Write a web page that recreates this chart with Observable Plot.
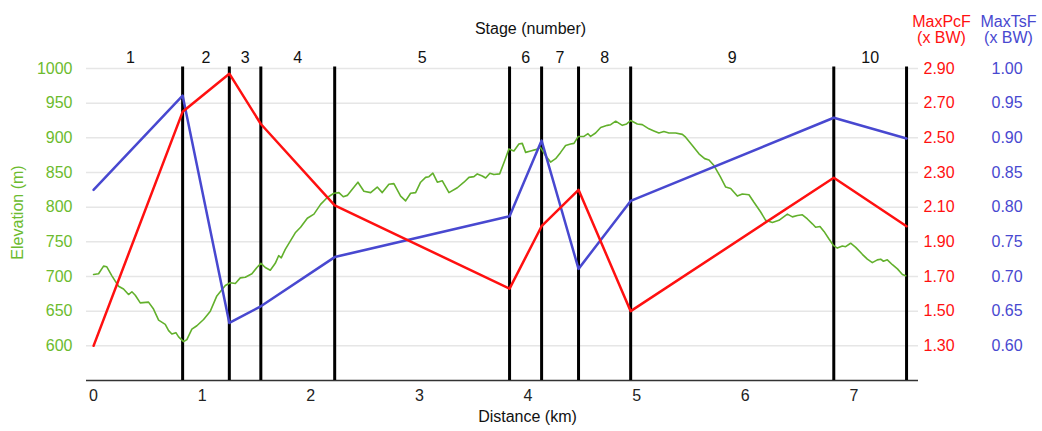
<!DOCTYPE html>
<html>
<head>
<meta charset="utf-8">
<script src="https://cdn.jsdelivr.net/npm/d3@7"></script>
<script src="https://cdn.jsdelivr.net/npm/@observablehq/plot@0.6"></script>
<style>
  html, body { margin: 0; padding: 0; background: #fff; }
  #chart svg { display: block; }
</style>
</head>
<body>
<div id="chart"></div>
<script>
// ---- Data ----
const stageNumbers = [1, 2, 3, 4, 5, 6, 7, 8, 9, 10];
const stageLabelKm = [0.34, 1.035, 1.395, 1.88, 3.025, 3.978, 4.295, 4.705, 5.88, 7.15];
const stageEnds = [0.82, 1.25, 1.54, 2.22, 3.83, 4.125, 4.465, 4.945, 6.815, 7.485];

const forceKm = [0, 0.82, 1.25, 1.54, 2.22, 3.83, 4.125, 4.465, 4.945, 6.815, 7.485];
const maxPcF = [1.30, 2.65, 2.87, 2.58, 2.11, 1.63, 1.99, 2.20, 1.50, 2.27, 1.99];
const maxTsF = [0.825, 0.961, 0.633, 0.657, 0.728, 0.787, 0.896, 0.711, 0.809, 0.929, 0.899];

const profileKm = [0, 0.046, 0.092, 0.122, 0.169, 0.230, 0.276, 0.322, 0.353, 0.384, 0.430, 0.506, 0.552, 0.599, 0.660, 0.691, 0.721, 0.758, 0.783, 0.829, 0.859, 0.905, 0.951, 1.013, 1.075, 1.135, 1.213, 1.259, 1.305, 1.351, 1.397, 1.458, 1.504, 1.541, 1.581, 1.627, 1.673, 1.704, 1.728, 1.765, 1.811, 1.857, 1.906, 1.968, 2.029, 2.090, 2.152, 2.213, 2.259, 2.299, 2.336, 2.382, 2.434, 2.489, 2.551, 2.612, 2.658, 2.719, 2.765, 2.827, 2.873, 2.919, 2.965, 3.011, 3.057, 3.088, 3.124, 3.165, 3.211, 3.272, 3.349, 3.410, 3.456, 3.502, 3.533, 3.579, 3.610, 3.649, 3.686, 3.739, 3.785, 3.824, 3.870, 3.916, 3.947, 3.978, 4.024, 4.070, 4.116, 4.162, 4.208, 4.254, 4.300, 4.346, 4.392, 4.423, 4.463, 4.515, 4.552, 4.576, 4.622, 4.669, 4.730, 4.761, 4.807, 4.868, 4.908, 4.945, 5.006, 5.052, 5.113, 5.159, 5.205, 5.251, 5.297, 5.359, 5.421, 5.451, 5.513, 5.574, 5.626, 5.666, 5.712, 5.770, 5.820, 5.866, 5.927, 5.973, 6.034, 6.080, 6.142, 6.188, 6.250, 6.310, 6.388, 6.434, 6.480, 6.526, 6.572, 6.618, 6.648, 6.688, 6.725, 6.771, 6.811, 6.848, 6.894, 6.924, 6.970, 7.017, 7.078, 7.124, 7.170, 7.216, 7.247, 7.272, 7.308, 7.355, 7.401, 7.447, 7.477];
const profileElev = [703, 704, 715, 714, 701, 686, 682, 674, 678, 673, 662, 663, 653, 637, 631, 622, 617, 619, 613, 606, 609, 624, 629, 638, 650, 672, 687, 691, 690, 698, 699, 704, 713, 719, 713, 709, 719, 730, 727, 739, 751, 763, 771, 784, 790, 804, 814, 820, 821, 815, 817, 826, 836, 823, 821, 829, 821, 833, 834, 816, 809, 820, 821, 836, 843, 844, 849, 836, 838, 821, 828, 836, 843, 844, 848, 845, 842, 849, 847, 848, 867, 884, 881, 891, 892, 879, 881, 883, 886, 874, 865, 870, 879, 889, 891, 892, 902, 902, 906, 902, 907, 915, 918, 919, 924, 918, 920, 925, 920, 919, 913, 910, 907, 909, 907, 907, 905, 901, 889, 877, 870, 868, 860, 844, 829, 827, 816, 819, 818, 807, 793, 781, 778, 781, 790, 786, 788, 789, 783, 776, 771, 772, 765, 754, 745, 741, 744, 743, 748, 742, 732, 725, 720, 724, 725, 722, 724, 717, 711, 703, 701];

const distTicks = [0, 1, 2, 3, 4, 5, 6, 7];
const elevTicks = [600, 650, 700, 750, 800, 850, 900, 950, 1000];
const pcfTicks = [1.30, 1.50, 1.70, 1.90, 2.10, 2.30, 2.50, 2.70, 2.90];
const tsfTicks = [0.60, 0.65, 0.70, 0.75, 0.80, 0.85, 0.90, 0.95, 1.00];

// ---- Colours ----
const GREEN_TEXT = "#6cbb2e";
const GREEN_LINE = "#62b02c";
const RED = "#ff1010";
const BLUE = "#4848d0";

// map secondary axes values onto the elevation scale
const pcfToElev = d3.scaleLinear().domain([pcfTicks[0], pcfTicks[pcfTicks.length - 1]]).range([elevTicks[0], elevTicks[elevTicks.length - 1]]);
const tsfToElev = d3.scaleLinear().domain([tsfTicks[0], tsfTicks[tsfTicks.length - 1]]).range([elevTicks[0], elevTicks[elevTicks.length - 1]]);

const profile = profileKm.map((k, i) => ({km: k, elev: profileElev[i]}));
const forces = forceKm.map((k, i) => ({km: k, pcf: pcfToElev(maxPcF[i]), tsf: tsfToElev(maxTsF[i])}));
const stageLabels = stageNumbers.map((n, i) => ({n: String(n), km: stageLabelKm[i]}));

const chart = Plot.plot({
  width: 1042,
  height: 431,
  marginLeft: 86,
  marginRight: 124,
  marginTop: 68,
  marginBottom: 51,
  x: {domain: [-0.065, 7.595]},
  y: {domain: [550, 1000]},
  style: {fontFamily: "'Liberation Sans', Arial, sans-serif", fontSize: "16px", background: "#fff", overflow: "visible"},
  marks: [
    Plot.gridY(elevTicks, {stroke: "#e6e6e6", strokeOpacity: 1, strokeWidth: 1.5}),
    Plot.ruleY([550], {stroke: "#333", strokeWidth: 1.5}),
    Plot.axisX(distTicks, {tickSize: 0, tickPadding: 9, label: null, fill: "#222", fontSize: 16}),
    Plot.axisY(elevTicks, {anchor: "left", tickSize: 0, tickPadding: 14, label: null, color: GREEN_TEXT, fontSize: 16,
      tickFormat: d => String(d)}),
    Plot.axisY(elevTicks, {anchor: "right", tickSize: 0, tickPadding: 5, label: null, color: RED, fontSize: 16,
      tickFormat: d => pcfTicks[elevTicks.indexOf(d)].toFixed(2)}),
    Plot.axisY(elevTicks, {anchor: "right", tickSize: 0, tickPadding: 5, dx: 68, label: null, color: BLUE, fontSize: 16,
      tickFormat: d => tsfTicks[elevTicks.indexOf(d)].toFixed(2)}),
    Plot.ruleX(stageEnds, {y1: 550, y2: 1002, stroke: "#000", strokeWidth: 3}),
    Plot.line(profile, {x: "km", y: "elev", stroke: GREEN_LINE, strokeWidth: 1.6}),
    Plot.line(forces, {x: "km", y: "tsf", stroke: BLUE, strokeWidth: 2.5}),
    Plot.line(forces, {x: "km", y: "pcf", stroke: RED, strokeWidth: 2.5}),
    Plot.text(stageLabels, {x: "km", y: 1000, text: "n", dy: -11, fill: "#111", fontSize: 16}),
    Plot.text(["Stage (number)"], {frameAnchor: "top", lineAnchor: "middle", dx: 28, dy: -40, fill: "#111", fontSize: 16}),
    Plot.text(["Distance (km)"], {frameAnchor: "bottom", lineAnchor: "middle", dx: 25, dy: 36, fill: "#111", fontSize: 16}),
    Plot.text(["Elevation (m)"], {frameAnchor: "left", textAnchor: "middle", lineAnchor: "middle", rotate: -90, dx: -69, dy: -12, fill: GREEN_TEXT, fontSize: 16}),
    Plot.text(["MaxPcF\n(x BW)"], {frameAnchor: "top-right", lineAnchor: "middle", dx: 23, dy: -39, textAnchor: "middle", fill: RED, fontSize: 16}),
    Plot.text(["MaxTsF\n(x BW)"], {frameAnchor: "top-right", lineAnchor: "middle", dx: 90, dy: -39, textAnchor: "middle", fill: BLUE, fontSize: 16})
  ]
});
document.getElementById("chart").appendChild(chart);
</script>
</body>
</html>
